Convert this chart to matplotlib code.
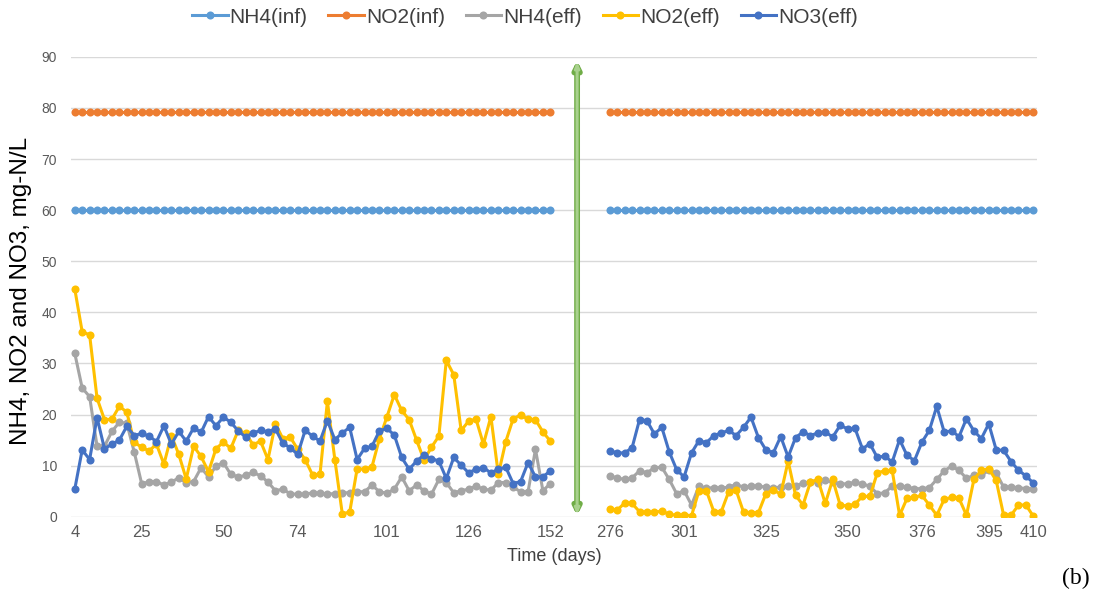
import numpy as np
import matplotlib.pyplot as plt

plt.rcParams['font.family'] = ['Liberation Sans', 'DejaVu Sans']

# influent concentrations were held constant
nh4_inf_level = 60.0
no2_inf_level = 79.2

# phase 1 samples (days 4-152)
nh4_eff_1 = [32.0, 25.2, 23.5, 13.8, 13.8, 16.7, 18.5, 18.3, 12.7, 6.5, 6.8, 6.9, 6.2, 6.8, 7.6, 6.7,
             6.9, 9.6, 7.8, 9.9, 10.6, 8.3, 7.8, 8.1, 8.7, 8.0, 6.8, 5.1, 5.4, 4.5, 4.4, 4.4, 4.7,
             4.6, 4.5, 4.5, 4.7, 4.7, 4.9, 4.9, 6.2, 4.9, 4.6, 5.4, 7.8, 5.1, 6.2, 5.1, 4.4, 7.3,
             6.7, 4.7, 5.1, 5.4, 6.0, 5.4, 5.2, 6.7, 6.7, 5.8, 4.9, 4.9, 13.2, 5.1, 6.5]
no2_eff_1 = [44.6, 36.2, 35.6, 23.2, 19.0, 19.1, 21.6, 20.5, 14.6, 13.6, 12.9, 14.2, 10.3, 15.9, 12.2,
             7.4, 13.8, 11.8, 8.8, 13.3, 14.6, 13.4, 16.9, 16.3, 14.1, 14.8, 11.2, 18.2, 15.3, 15.6,
             13.2, 11.2, 8.2, 8.3, 22.6, 11.2, 0.6, 0.9, 9.4, 9.3, 9.8, 15.3, 19.5, 23.9, 20.8, 19.0,
             15.0, 11.1, 13.6, 15.8, 30.6, 27.8, 16.9, 18.7, 19.1, 14.2, 19.6, 8.3, 14.7, 19.2, 19.9,
             19.1, 19.0, 16.6, 14.8]
no3_eff_1 = [5.4, 13.1, 11.2, 19.4, 13.3, 14.2, 15.0, 17.7, 15.9, 16.3, 15.8, 14.7, 17.8, 14.2, 16.7,
             14.8, 17.4, 16.5, 19.6, 17.8, 19.5, 18.5, 16.8, 15.6, 16.4, 16.9, 16.6, 17.2, 14.4, 13.5,
             12.2, 16.9, 15.8, 14.8, 18.8, 15.1, 16.4, 17.5, 11.2, 13.4, 13.8, 16.8, 17.3, 16.0, 11.6,
             9.3, 10.9, 12.1, 11.4, 10.9, 7.5, 11.6, 10.1, 8.6, 9.3, 9.6, 8.6, 9.3, 9.7, 6.5, 6.9,
             10.6, 7.8, 7.8, 9.0]

# phase 2 samples (days 276-410)
nh4_eff_2 = [8.0, 7.6, 7.3, 7.6, 9.0, 8.6, 9.6, 9.7, 7.3, 4.5, 5.1, 2.3, 6.0, 5.6, 5.7, 5.6, 5.8,
             6.3, 5.8, 6.0, 6.0, 5.8, 5.7, 5.8, 6.0, 6.0, 6.6, 6.8, 6.7, 7.1, 6.8, 6.5, 6.4, 6.8,
             6.4, 6.0, 4.5, 4.7, 6.0, 6.0, 5.8, 5.5, 5.5, 5.7, 7.3, 9.0, 9.9, 9.1, 7.5, 8.1, 8.1,
             9.1, 8.6, 5.8, 5.8, 5.7, 5.5, 5.5]
no2_eff_2 = [1.5, 1.3, 2.7, 2.6, 1.0, 0.9, 0.9, 1.1, 0.5, 0.3, 0.4, 0.2, 5.1, 5.1, 1.0, 1.0, 4.9,
             5.2, 0.9, 0.8, 0.8, 4.5, 5.3, 4.4, 10.9, 4.2, 2.3, 6.8, 7.3, 2.6, 7.3, 2.3, 2.1, 2.5,
             4.0, 4.0, 8.6, 9.0, 9.1, 0.3, 3.6, 3.8, 4.2, 2.3, 0.3, 3.4, 3.8, 3.6, 0.3, 7.3, 9.1,
             9.4, 7.1, 0.3, 0.3, 2.3, 2.3, 0.1]
no3_eff_2 = [12.9, 12.5, 12.5, 13.5, 19.0, 18.8, 16.2, 17.5, 12.7, 9.2, 7.8, 12.5, 14.9, 14.5, 15.9,
             16.4, 16.9, 15.9, 17.5, 19.5, 15.5, 13.1, 12.5, 15.7, 11.7, 15.5, 16.6, 15.9, 16.4,
             16.6, 15.6, 17.9, 17.2, 17.3, 13.3, 14.3, 11.6, 11.9, 10.7, 15.1, 12.0, 11.0, 14.6,
             16.9, 21.6, 16.6, 16.8, 15.7, 19.2, 16.8, 15.3, 18.2, 13.1, 13.0, 10.8, 9.1, 8.0, 6.6]

gap = 7  # empty categories between the two phases

tick_days = [4, 25, 50, 74, 101, 126, 152, 276, 301, 325, 350, 376, 395, 410]
tick_index = [0, 9, 20, 30, 42, 53, 64, 72, 82, 93, 104, 114, 123, 129]


def join(a, b):
    return np.array(list(a) + [np.nan] * gap + list(b), dtype=float)


nh4_eff = join(nh4_eff_1, nh4_eff_2)
no2_eff = join(no2_eff_1, no2_eff_2)
no3_eff = join(no3_eff_1, no3_eff_2)
nh4_inf = np.where(np.isnan(nh4_eff), np.nan, nh4_inf_level)
no2_inf = np.where(np.isnan(nh4_eff), np.nan, no2_inf_level)
x = np.arange(len(nh4_eff))

series = [
    ('NH4(inf)', nh4_inf, '#5B9BD5'),
    ('NO2(inf)', no2_inf, '#ED7D31'),
    ('NH4(eff)', nh4_eff, '#A5A5A5'),
    ('NO2(eff)', no2_eff, '#FFC000'),
    ('NO3(eff)', no3_eff, '#4472C4'),
]

fig = plt.figure(figsize=(11.1, 5.94), dpi=100)
ax = fig.add_axes([0.064, 0.130, 0.8703, 0.7743])

for name, y, c in series:
    ax.plot(x, y, color=c, lw=2.2, marker='o', ms=5.8, mew=0, label=name)

# phase change marker
arrow_x = 67.6
ax.annotate('', xy=(arrow_x, 89.3), xytext=(arrow_x, 0.2),
            arrowprops=dict(arrowstyle='<|-|>,head_length=0.4,head_width=0.2',
                            lw=4.2, color='#70AD47', shrinkA=0, shrinkB=0))
ax.annotate('', xy=(arrow_x, 89.0), xytext=(arrow_x, 0.5),
            arrowprops=dict(arrowstyle='<|-|>,head_length=0.3,head_width=0.13',
                            lw=2.2, color='#A9D18E', shrinkA=0, shrinkB=0))

ax.set_xlim(-0.5, len(x) - 0.5)
ax.set_ylim(0, 90)
ax.set_yticks(np.arange(0, 91, 10))
ax.set_xticks(tick_index)
ax.set_xticklabels([str(d) for d in tick_days])
ax.tick_params(axis='both', length=0, colors='#595959')
ax.tick_params(axis='y', labelsize=10, pad=10)
ax.tick_params(axis='x', labelsize=12, pad=6)
for s in ax.spines.values():
    s.set_visible(False)
ax.grid(axis='y', color='#D9D9D9', lw=1)
ax.set_axisbelow(True)

ax.set_ylabel('NH4, NO2 and NO3, mg-N/L', fontsize=17.5, color='black')
ax.yaxis.set_label_coords(-0.040, 0.49)
ax.set_xlabel('Time (days)', fontsize=13, color='#404040')
ax.xaxis.set_label_coords(0.5, -0.068)

fig.legend(loc='center', bbox_to_anchor=(0.473, 0.971), ncol=5, frameon=False,
           fontsize=15, handlelength=1.7, handletextpad=0.1, columnspacing=1.0,
           numpoints=1, labelcolor='#404040')

fig.text(0.957, 0.008, '(b)', fontsize=17, family='Liberation Serif', ha='left', va='bottom')

fig.savefig('out.png', dpi=100)
